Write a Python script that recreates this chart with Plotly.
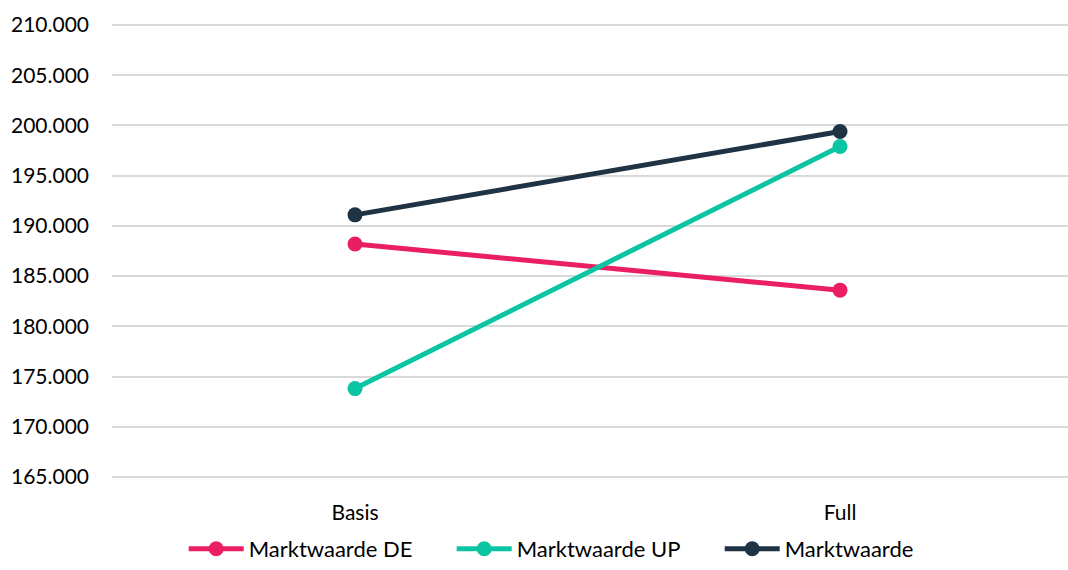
import plotly.graph_objects as go

categories = ["Basis", "Full"]
marktwaarde_de = [188200, 183600]
marktwaarde_up = [173800, 197900]
marktwaarde = [191100, 199400]
y_ticks = [165000, 170000, 175000, 180000, 185000, 190000, 195000, 200000, 205000, 210000]

series = [
    ("Marktwaarde DE", marktwaarde_de, "#EA1F63"),
    ("Marktwaarde UP", marktwaarde_up, "#0BC4A3"),
    ("Marktwaarde", marktwaarde, "#1F3344"),
]

fig = go.Figure()
for name, values, color in series:
    fig.add_trace(go.Scatter(
        x=categories, y=values, name=name, mode="lines+markers",
        line=dict(color=color, width=5),
        marker=dict(color=color, size=15),
    ))

font_family = "Lato, 'Open Sans', sans-serif"
fig.update_layout(
    width=1068, height=570,
    margin=dict(l=112, r=0, t=23, b=91),
    paper_bgcolor="white", plot_bgcolor="white",
    separators=",.",
    font=dict(family=font_family, size=21, color="#000000"),
    showlegend=True,
    legend=dict(
        orientation="h", xref="container", yref="container",
        x=0.172, xanchor="left", y=0, yanchor="bottom",
        font=dict(size=22, color="#000000"),
        itemwidth=55, entrywidth=198, entrywidthmode="pixels",
        tracegroupgap=0,
    ),
    xaxis=dict(
        type="category", range=[-0.501, 1.47],
        showgrid=False, zeroline=False, showline=False,
        ticks="", ticklabelstandoff=19,
    ),
    yaxis=dict(
        range=[164800, 210200], tickvals=y_ticks, tickformat=",.0f",
        showgrid=True, gridcolor="#D9D9D9", gridwidth=1.5,
        zeroline=False, showline=False, ticks="",
        ticklabelstandoff=22,
    ),
)

fig.write_html("out.html")
